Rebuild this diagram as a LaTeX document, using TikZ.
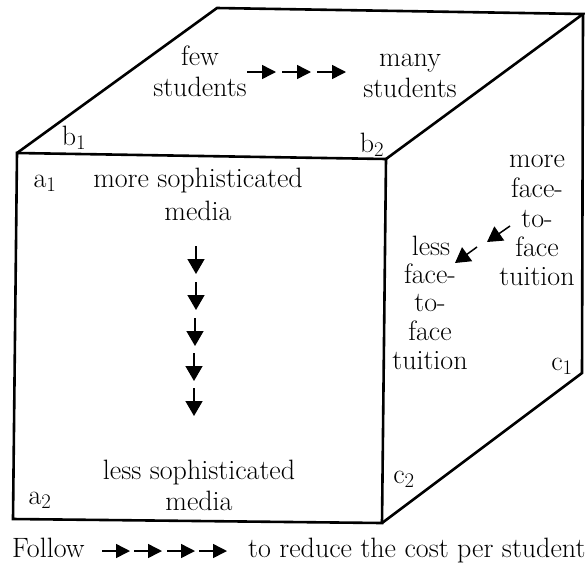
\documentclass[tikz,border=0pt]{standalone}
\usetikzlibrary{arrows.meta}
\begin{document}
\begin{tikzpicture}[x=1pt,y=-1pt,
  edge/.style={line width=2.6pt, line join=miter},
  lab/.style={anchor=base, inner sep=0pt, font=\fontsize{28}{33}\selectfont},
  labw/.style={lab, anchor=base west},
  arr/.style={line width=1.5pt, -{Triangle[length=14pt,width=14pt]}},
  bigarr/.style={line width=1.5pt, -{Triangle[length=15pt,width=17pt]}}]
\useasboundingbox (0,0) rectangle (585,571);
% cube corners
\coordinate (A) at (17,153);
\coordinate (B) at (386,159);
\coordinate (C) at (382,523);
\coordinate (D) at (13,519);
\coordinate (E) at (217,8);
\coordinate (F) at (583,14);
\coordinate (G) at (582,373);
\draw[edge] (D) -- (A) -- (B) -- (C) -- cycle;
\draw[edge] (A) -- (E) -- (F) -- (B);
\draw[edge] (F) -- (G) -- (C);
% top face
\node[lab] (few) at (200,65) {few};
\node[lab] (studA) at (200,96) {students};
\node[lab] (many) at (410,66) {many};
\node[lab] (studB) at (410,97) {students};
\foreach \x in {247,282,317} \draw[arr] (\x,72) -- ++(29,0);
% corner labels
\node[lab] (b1) at (74,145) {b$_1$};
\node[lab] (b2) at (372,152) {b$_2$};
\node[lab] (a1) at (45,187) {a$_1$};
\node[lab] (a2) at (40,504) {a$_2$};
\node[lab] (c1) at (562,370) {c$_1$};
\node[lab] (c2) at (404,483) {c$_2$};
% front face
\node[lab] (moreS) at (198,187) {more sophisticated};
\node[lab] (mediaA) at (198,220) {media};
\node[lab] (lessS) at (199,479) {less sophisticated};
\node[lab] (mediaB) at (199,510) {media};
\foreach \x/\y in {196/246,196/282,195/318,194/353,194/388} \draw[bigarr] (\x,\y) -- ++(0,28);
% right face
\node[lab] (mA1) at (537,167) {more};
\node[lab] (mA2) at (537,197) {face-};
\node[lab] (mA3) at (537,227) {to-};
\node[lab] (mA4) at (537,256) {face};
\node[lab] (mA5) at (537,285) {tuition};
\node[lab] (lA1) at (431,255) {less};
\node[lab] (lA2) at (430,283) {face-};
\node[lab] (lA3) at (430,311) {to-};
\node[lab] (lA4) at (430,340) {face};
\node[lab] (lA5) at (430,369) {tuition};
\draw[bigarr] (510,226) -- (487,242);
\draw[bigarr] (477,247) -- (455,263);
% caption
\node[labw] (follow) at (12,557) {Follow};
\foreach \x in {102,134,167,199} \draw[arr] (\x,551) -- ++(28,0);
\node[labw] (reduce) at (248,557) {to reduce the cost per student};
\end{tikzpicture}
\end{document}
